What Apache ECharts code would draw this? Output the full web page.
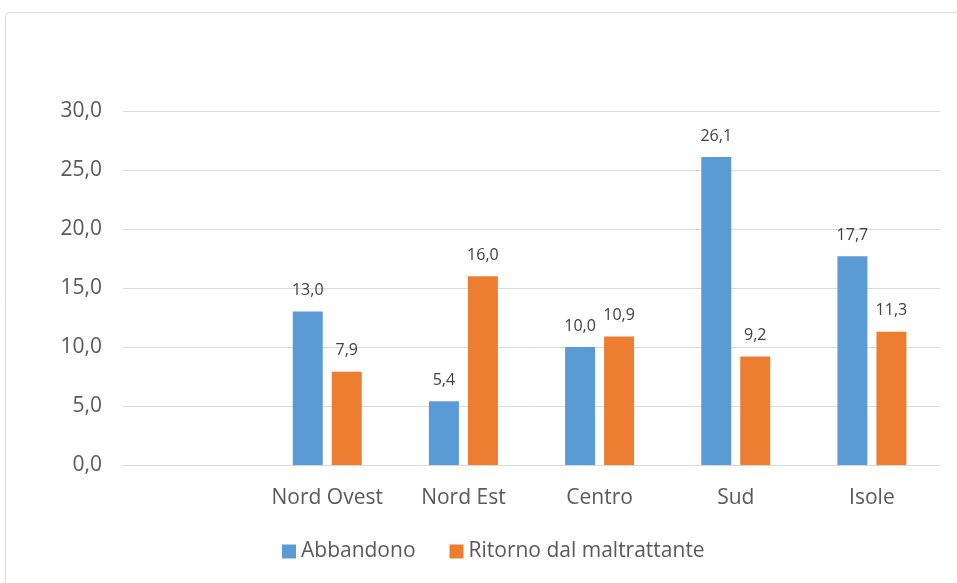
<!DOCTYPE html>
<html><head><meta charset="utf-8">
<script src="https://cdn.jsdelivr.net/npm/echarts@6/dist/echarts.min.js"></script>
<style>html,body{margin:0;padding:0;background:#fff}#c{width:957px;height:583px}</style>
</head><body><div id="c"></div>
<script>
const categories = ['', 'Nord Ovest', 'Nord Est', 'Centro', 'Sud', 'Isole'];
const abbandono = [null, 13.0, 5.4, 10.0, 26.1, 17.7];
const ritorno = [null, 7.9, 16.0, 10.9, 9.2, 11.3];
const seriesNames = ['Abbandono', 'Ritorno dal maltrattante'];

const fmt = v => Number(v).toFixed(1).replace('.', ',');
const font = '"Open Sans", "Liberation Sans", sans-serif';
const chart = echarts.init(document.getElementById('c'));
const labelCfg = {
  show: true, position: 'top', distance: 13,
  formatter: p => fmt(p.value), color: '#404040', fontSize: 16, fontFamily: font
};
chart.setOption({
  animation: false,
  graphic: [{
    type: 'rect', shape: { x: 5.5, y: 12.5, width: 1000, height: 1000, r: 4 },
    style: { fill: 'none', stroke: '#d9d9d9', lineWidth: 1 }, silent: true
  }],
  grid: { left: 123, right: 17, top: 111, bottom: 118 },
  legend: {
    top: 536, left: 277, itemWidth: 14, itemHeight: 14, itemGap: 34,
    icon: 'rect',
    textStyle: { color: '#595959', fontSize: 21, fontFamily: font },
    data: seriesNames
  },
  xAxis: {
    type: 'category', data: categories,
    axisLine: { lineStyle: { color: '#d9d9d9' } },
    axisTick: { show: false },
    axisLabel: { color: '#595959', fontSize: 21, fontFamily: font, margin: 23, interval: 0 }
  },
  yAxis: {
    type: 'value', min: 0, max: 30, interval: 5,
    axisLine: { show: false }, axisTick: { show: false },
    splitLine: { lineStyle: { color: '#d9d9d9' } },
    axisLabel: { color: '#595959', fontSize: 21, fontFamily: font, margin: 21, formatter: fmt }
  },
  series: [
    { name: seriesNames[0], type: 'bar', data: abbandono, barWidth: 30, barGap: '30%',
      itemStyle: { color: '#5B9BD5' }, label: labelCfg },
    { name: seriesNames[1], type: 'bar', data: ritorno, barWidth: 30, barGap: '30%',
      itemStyle: { color: '#ED7D31' }, label: labelCfg }
  ]
});
</script></body></html>
